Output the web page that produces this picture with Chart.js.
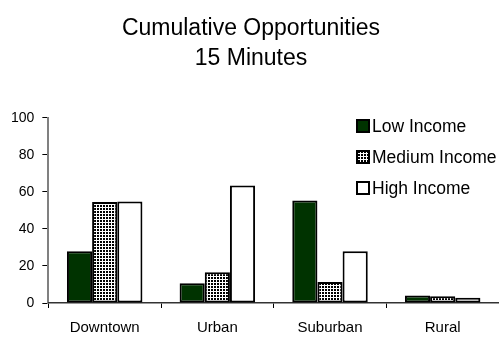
<!DOCTYPE html>
<html>
<head>
<meta charset="utf-8">
<script src="https://cdn.jsdelivr.net/npm/chart.js@4/dist/chart.umd.min.js"></script>
<style>
  html, body { margin: 0; padding: 0; background: #fff; }
  #wrap { width: 499px; height: 343px; }
</style>
</head>
<body>
<div id="wrap"><canvas id="opportunitiesChart" width="499" height="343"></canvas></div>
<script>
// chart data
const categories = ['Downtown', 'Urban', 'Suburban', 'Rural'];
const seriesNames = ['Low Income', 'Medium Income', 'High Income'];
const lowIncome = [28, 10.7, 55.3, 4.1];
const mediumIncome = [54.6, 16.6, 11.4, 3.6];
const highIncome = [54.8, 63.4, 28, 2.8];
const yTicks = [0, 20, 40, 60, 80, 100];
const titleLines = ['Cumulative Opportunities', '15 Minutes'];

const FONT = 'Arial, "Liberation Sans", sans-serif';

// black dots on white for the medium series
function dotPattern() {
    const c = document.createElement('canvas');
    c.width = 3;
    c.height = 3;
    const g = c.getContext('2d');
    g.fillStyle = '#fff';
    g.fillRect(0, 0, 3, 3);
    g.fillStyle = '#000';
    g.fillRect(1, 1, 2, 2);
    return g.createPattern(c, 'repeat');
}

// legend drawn inside the plot, top right
const boxLegend = {
    id: 'boxLegend',
    afterDraw(chart) {
        const ctx = chart.ctx;
        const x = 357, y0 = 126, step = 31, size = 12;
        ctx.save();
        ctx.font = '17.5px ' + FONT;
        ctx.textBaseline = 'middle';
        chart.data.datasets.forEach(function(ds, i) {
            const y = y0 + i * step;
            ctx.fillStyle = ds.backgroundColor;
            ctx.fillRect(x, y - size / 2, size, size);
            ctx.lineWidth = 2;
            ctx.strokeStyle = '#000';
            ctx.strokeRect(x, y - size / 2, size, size);
            ctx.fillStyle = '#000';
            ctx.fillText(ds.label, x + size + 3, y + 1);
        });
        ctx.restore();
    }
};

document.addEventListener('DOMContentLoaded', function() {
    const ctx = document.getElementById('opportunitiesChart').getContext('2d');
    const fills = ['#003300', dotPattern(), '#ffffff'];
    const values = [lowIncome, mediumIncome, highIncome];

    new Chart(ctx, {
        type: 'bar',
        data: {
            labels: categories,
            datasets: seriesNames.map(function(name, i) {
                return {
                    label: name,
                    data: values[i],
                    backgroundColor: fills[i],
                    borderColor: '#000',
                    borderWidth: 2,
                    borderSkipped: false,
                    categoryPercentage: 0.67,
                    barPercentage: 1.0
                };
            })
        },
        options: {
            responsive: false,
            animation: false,
            layout: { padding: { left: 3, right: 0, top: 0, bottom: -4 } },
            plugins: {
                legend: { display: false },
                tooltip: { enabled: false },
                title: {
                    display: true,
                    text: titleLines,
                    color: '#000',
                    font: { family: FONT, size: 23, weight: 'normal', lineHeight: 1.3 },
                    padding: { top: 14, bottom: 44 }
                }
            },
            scales: {
                y: {
                    min: 0,
                    max: 100,
                    afterBuildTicks: function(axis) {
                        axis.ticks = yTicks.map(function(v) { return { value: v }; });
                    },
                    grid: { drawOnChartArea: false, drawTicks: true, tickLength: 6, color: '#000' },
                    border: { color: '#808080', width: 2 },
                    ticks: { color: '#000', padding: 8, font: { family: FONT, size: 14 } }
                },
                x: {
                    grid: { offset: true, drawOnChartArea: false, drawTicks: true, tickLength: 5, color: '#000' },
                    border: { color: '#333', width: 1.5 },
                    ticks: { color: '#000', padding: 12, font: { family: FONT, size: 15, lineHeight: 1 } }
                }
            }
        },
        plugins: [boxLegend]
    });
});
</script>
</body>
</html>
